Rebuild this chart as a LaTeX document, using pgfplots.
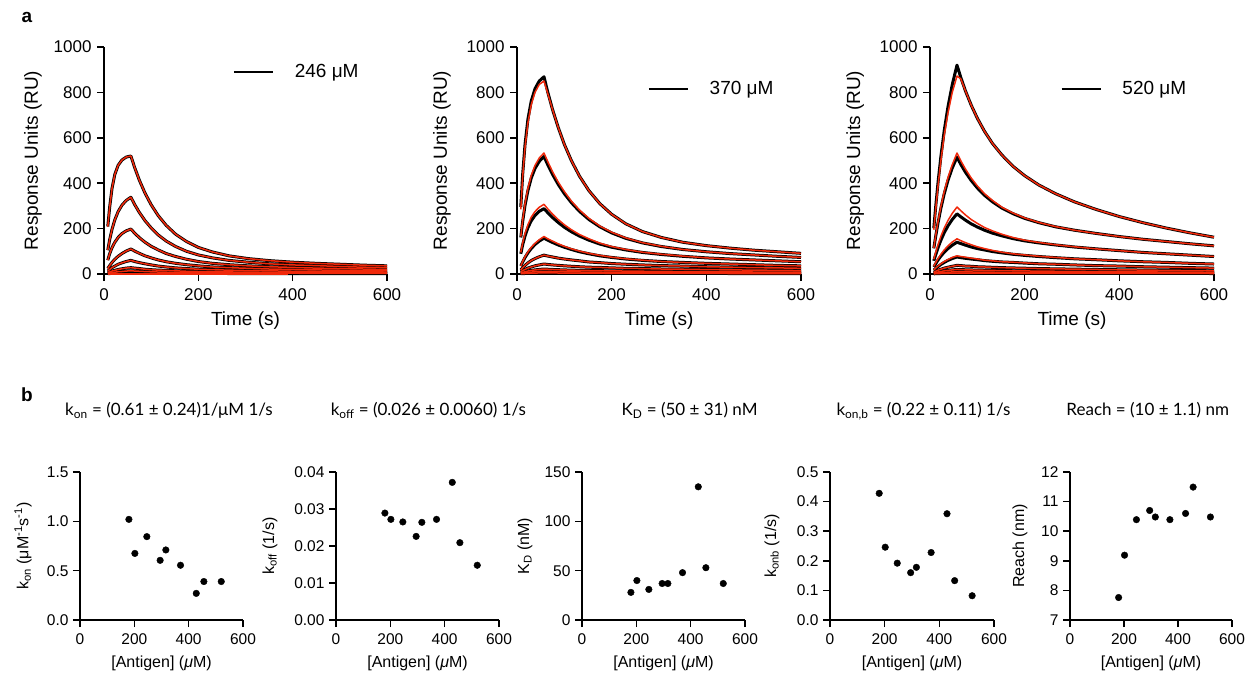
\documentclass[border=0pt]{standalone}
\usepackage{fontspec}
\setmainfont{Liberation Sans}
\newfontfamily\titlefont{Lato}
\usepackage{pgfplots}
\pgfplotsset{compat=1.18}
\usepackage{pgfplotstable}
\definecolor{fitred}{RGB}{240,40,10}

% panel a1 (246 uM): black data = red fit (drawn twice)
\pgfplotstableread{
t    c1   c2   c3   c4   c5   c6   c7   c8
8    209  105  61   24   13   6    3    1.3
12   294  151  89   37   20   9    5    2
17   377  197  116  51   28   13   6    2.8
23   439  239  140  65   35   16   8    3.5
30   479  275  161  78   43   20   10   4.3
38   502  303  178  90   49   23   11   4.9
47   515  324  190  101  55   26   13   5.5
57   520  338  198  110  60   28   14   6
65   469  306  180  101  55   26   13   5.6
75   413  271  160  91   50   24   12   5.2
87   356  235  140  80   45   21   10.7 4.7
100  305  203  122  71   40   19   9.7  4.3
115  257  172  106  62   35   17   8.7  3.9
132  214  145  90   54   31   16   7.8  3.5
152  175  121  77   47   27   14   6.9  3.2
175  143  100  65   41   24   12   6.2  2.9
200  117  84   55   36   21   11   5.6  2.6
230  97   71   47   31   19   10   5    2.4
265  80   60   41   28   17   9    4.5  2.2
305  68   52   36   25   15   8.2  4.1  2
350  59   45   32   22   14   7.3  3.7  1.8
400  52   40   29   20   12   6.7  3.4  1.7
450  47   37   26   18   11   6.2  3.1  1.5
500  43   33   24   16.5 10   5.7  2.8  1.4
550  39   30   22   15   9.5  5.2  2.6  1.3
600  36   28   20   14   8.7  4.8  2.4  1.2
}\tabA

% panel a2 (370 uM): black data
\pgfplotstableread{
t    c1   c2   c3   c4   c5   c6   c7   c8   c9
8    295  161  89   35   18   10   5    2.6  1.1
12   440  232  129  53   28   15   7    4    1.7
17   572  303  168  73   38   20   10   5.5  2.3
23   681  367  204  93   49   26   13   7    2.9
30   761  422  234  112  59   31   16   8.5  3.5
38   816  465  258  130  68   36   18   9.9  4.1
47   850  496  276  145  76   40   20   11   4.6
57   869  518  288  158  83   44   22   12   5
65   801  481  270  149  79   42   21   11.5 4.8
75   725  439  249  139  75   40   20   11   4.6
87   646  395  227  128  70   38   19   10.4 4.4
100  571  354  206  118  66   36   18   9.9  4.2
115  499  314  186  108  62   34   17   9.4  4
132  431  276  167  98   58   32   16   8.9  3.8
152  367  240  149  89   53   30   15.5 8.3  3.6
175  310  208  132  80   50   29   14.6 7.8  3.4
200  263  181  118  73   46   27   13.8 7.4  3.2
230  221  157  106  66   43   25   13   7    3
265  187  137  95   60   40   24   12.2 6.5  2.8
305  161  121  86   55   37   22   11.4 6.1  2.7
350  140  108  78   51   35   21   10.7 5.7  2.5
400  125  98   71   47   32   19.4 10   5.4  2.4
450  114  90   66   44   30   18.2 9.4  5    2.2
500  105  84   62   41   28   17.1 8.8  4.7  2.1
550  98   78   58   38   27   16.1 8.3  4.4  2
600  91   73   54   36   25   15.1 7.8  4.2  1.9
}\tabB
% panel a2: red fits of the four largest curves
\pgfplotstableread{
t    r1   r2   r3   r4
8    285  165  95   36
12   430  238  137  55
17   560  311  179  76
23   665  377  217  97
30   745  434  250  117
38   800  478  275  135
47   835  511  294  151
57   850  533  307  165
65   795  495  287  155
75   725  451  264  145
87   646  405  240  133
100  571  363  217  122
115  499  321  195  111
132  431  282  174  101
152  367  245  155  91
175  310  211  136  82
200  263  184  121  74
230  221  159  108  67
265  187  138  96   61
305  161  122  87   55
350  140  108  79   51
400  125  98   71   47
450  114  90   66   44
500  105  84   62   41
550  98   78   58   38
600  91   73   54   36
}\tabBr

% panel a3 (520 uM): black data
\pgfplotstableread{
t    c1   c2   c3   c4   c5   c6   c7   c8   c9
8    202  113  58   31   17   8    4.4  2.2  0.9
12   296  166  85   45   24   12   6.4  3.2  1.3
17   404  226  116  62   33   17   8.8  4.4  1.8
23   518  290  149  79   42   21   11   5.6  2.3
30   631  353  182  96   51   26   14   6.9  2.7
38   737  413  212  112  60   30   16   8    3.2
47   834  467  240  127  68   34   18   9.1  3.6
57   920  515  265  140  75   38   20   10   4
65   866  483  252  134  72   37   19.3 9.6  3.9
75   806  448  237  127  69   35   18.6 9.3  3.8
87   744  412  221  119  66   34   17.8 8.9  3.7
100  686  379  207  112  63   32   17.2 8.6  3.6
115  629  347  193  106  59   31   16.4 8.2  3.5
132  575  318  180  99   56   29.5 15.7 7.8  3.4
152  524  290  168  93   53   28   14.9 7.5  3.3
175  475  266  156  87   51   26.7 14.3 7.1  3.2
200  433  245  146  82   48   25.5 13.5 6.8  3.1
230  392  226  137  77   45   24   12.8 6.4  3
265  354  208  128  72   43   22.7 12.1 6    2.9
305  318  193  119  67   40   21.4 11.4 5.7  2.8
350  285  179  111  63   37   20   10.7 5.3  2.7
400  253  165  103  58   35   18.6 9.9  5    2.6
450  226  153  95   54   32   17.3 9.2  4.6  2.5
500  202  143  89   51   30   16.1 8.6  4.3  2.4
550  181  133  83   47   28   15   8    4    2.3
600  162  124  77   44   26   14   7.5  3.7  2.2
}\tabC
% panel a3: red fits of the five largest curves
\pgfplotstableread{
t    r1   r2   r3   r4   r5
8    195  115  65   34   18
12   285  170  95   50   26
17   390  232  130  68   35
23   500  298  166  87   45
30   610  363  202  106  55
38   710  425  236  124  64
47   800  481  267  141  73
57   872  533  295  155  80
65   860  499  279  147  77
75   806  462  260  138  74
87   744  423  240  129  70
100  686  388  223  120  66
115  629  354  205  112  61
132  575  324  190  104  58
152  524  294  175  96   54
175  475  269  161  89   52
200  433  247  149  84   49
230  392  227  139  78   45
265  354  209  129  73   43
305  318  193  120  67   40
350  285  179  111  63   37
400  253  165  103  58   35
450  226  153  95   54   32
500  202  143  89   51   30
550  181  133  83   47   28
600  162  124  77   44   26
}\tabCr

% panel b: fitted parameters vs antigen concentration
\pgfplotstableread{
c    kon   koff    KD   konb   reach
180  1.02  0.0289  28   0.428  7.76
202  0.675 0.0272  40   0.246  9.19
246  0.845 0.0265  31   0.192  10.39
295  0.605 0.0226  37   0.160  10.70
316  0.71  0.0264  37   0.178  10.48
370  0.555 0.0272  48   0.228  10.39
428  0.27  0.0372  135  0.359  10.60
456  0.39  0.0209  53   0.133  11.49
520  0.39  0.0148  37   0.082  10.48
}\tabD

\pgfplotsset{
  common/.style={
    scale only axis, axis lines*=left,
    axis line style={line width=1.6pt},
    tick align=outside, major tick length=7pt,
    tick style={black, line width=1.6pt},
    scaled ticks=false,
    xmin=0, xmax=600, xtick={0,200,400,600}, xticklabels={0,200,400,600},
  },
  spr/.style={
    common, width=284pt, height=227pt, ymin=0, ymax=1000,
    ytick={0,200,400,600,800,1000}, yticklabels={0,200,400,600,800,1000},
    tick label style={font=\fontsize{17}{17}\selectfont},
    xticklabel style={yshift=-4pt}, yticklabel style={xshift=-2pt},
    label style={font=\fontsize{19}{19}\selectfont},
    xlabel={Time (s)}, ylabel={Response Units (RU)},
    xlabel style={at={(axis description cs:0.5,-0.207)}, anchor=center},
    clip=false,
    legend style={draw=none, fill=none, anchor=west, inner sep=0pt, outer sep=0pt,
      font=\fontsize{19}{19}\selectfont, nodes={inner sep=0pt}},
    legend image code/.code={\draw[##1] (0pt,0pt) -- (39pt,0pt); \path (60pt,0pt);},
  },
  blk/.style={black, line width=3pt, line join=round, forget plot},
  rd/.style={fitred, line width=1.5pt, line join=round, forget plot},
  scat/.style={
    common, width=163pt, height=148pt,
    tick label style={font=\fontsize{15.5}{15.5}\selectfont},
    xticklabel style={yshift=-3pt}, yticklabel style={xshift=-1pt},
    label style={font=\fontsize{16}{16}\selectfont},
    xlabel={[Antigen] (\textit{μ}M)},
    xlabel style={at={(axis description cs:0.5,-0.294)}, anchor=center},
    title style={font=\titlefont\fontsize{17}{17}\selectfont, anchor=base},
    clip=false,
  },
  dots/.style={only marks, mark=*, mark size=3.3pt, mark options={black, fill=black}},
}

\begin{document}
\begin{tikzpicture}
\useasboundingbox (0pt,0pt) rectangle (1246pt,-674pt);
\node[font=\bfseries\fontsize{19}{19}\selectfont] at (27pt,-17pt) {a};
\node[font=\bfseries\fontsize{19}{19}\selectfont] at (27pt,-395pt) {b};

% ---------- a1 ----------
\begin{axis}[spr, at={(104pt,-274pt)}, anchor=south west, width=283pt,
  ylabel style={at={(axis description cs:-0.251,0.5)}, anchor=center},
  legend style={at={(0.456,0.89)}}]
\addplot[blk] table[x=t,y=c1]{\tabA};
\addplot[blk] table[x=t,y=c2]{\tabA};
\addplot[blk] table[x=t,y=c3]{\tabA};
\addplot[blk] table[x=t,y=c4]{\tabA};
\addplot[blk] table[x=t,y=c5]{\tabA};
\addplot[blk] table[x=t,y=c6]{\tabA};
\addplot[blk] table[x=t,y=c7]{\tabA};
\addplot[blk] table[x=t,y=c8]{\tabA};
\addplot[rd] table[x=t,y=c1]{\tabA};
\addplot[rd] table[x=t,y=c2]{\tabA};
\addplot[rd] table[x=t,y=c3]{\tabA};
\addplot[rd] table[x=t,y=c4]{\tabA};
\addplot[rd] table[x=t,y=c5]{\tabA};
\addplot[rd] table[x=t,y=c6]{\tabA};
\addplot[rd] table[x=t,y=c7]{\tabA};
\addplot[rd] coordinates {(8,1) (390,1)};
\addlegendimage{black, line width=1.8pt}
\addlegendentry{246 μM}
\end{axis}

% ---------- a2 ----------
\begin{axis}[spr, at={(517pt,-274pt)}, anchor=south west, width=284pt,
  ylabel style={at={(axis description cs:-0.264,0.5)}, anchor=center},
  legend style={at={(0.461,0.815)}}]
\addplot[blk] table[x=t,y=c1]{\tabB};
\addplot[blk] table[x=t,y=c2]{\tabB};
\addplot[blk] table[x=t,y=c3]{\tabB};
\addplot[blk] table[x=t,y=c4]{\tabB};
\addplot[blk] table[x=t,y=c5]{\tabB};
\addplot[blk] table[x=t,y=c6]{\tabB};
\addplot[blk] table[x=t,y=c7]{\tabB};
\addplot[blk] table[x=t,y=c8]{\tabB};
\addplot[blk] table[x=t,y=c9]{\tabB};
\addplot[rd] table[x=t,y=r1]{\tabBr};
\addplot[rd] table[x=t,y=r2]{\tabBr};
\addplot[rd] table[x=t,y=r3]{\tabBr};
\addplot[rd] table[x=t,y=r4]{\tabBr};
\addplot[rd] table[x=t,y=c5]{\tabB};
\addplot[rd] table[x=t,y=c6]{\tabB};
\addplot[rd] table[x=t,y=c7]{\tabB};
\addplot[rd] table[x=t,y=c8]{\tabB};
\addplot[rd] table[x=t,y=c9]{\tabB};
\addlegendimage{black, line width=1.8pt}
\addlegendentry{370 μM}
\end{axis}

% ---------- a3 ----------
\begin{axis}[spr, at={(930pt,-274pt)}, anchor=south west, width=284pt,
  ylabel style={at={(axis description cs:-0.263,0.5)}, anchor=center},
  legend style={at={(0.460,0.815)}}]
\addplot[blk] table[x=t,y=c1]{\tabC};
\addplot[blk] table[x=t,y=c2]{\tabC};
\addplot[blk] table[x=t,y=c3]{\tabC};
\addplot[blk] table[x=t,y=c4]{\tabC};
\addplot[blk] table[x=t,y=c5]{\tabC};
\addplot[blk] table[x=t,y=c6]{\tabC};
\addplot[blk] table[x=t,y=c7]{\tabC};
\addplot[blk] table[x=t,y=c8]{\tabC};
\addplot[blk] table[x=t,y=c9]{\tabC};
\addplot[rd] table[x=t,y=r1]{\tabCr};
\addplot[rd] table[x=t,y=r2]{\tabCr};
\addplot[rd] table[x=t,y=r3]{\tabCr};
\addplot[rd] table[x=t,y=r4]{\tabCr};
\addplot[rd] table[x=t,y=r5]{\tabCr};
\addplot[rd] table[x=t,y=c6]{\tabC};
\addplot[rd] table[x=t,y=c7]{\tabC};
\addplot[rd] table[x=t,y=c8]{\tabC};
\addplot[rd] table[x=t,y=c9]{\tabC};
\addlegendimage{black, line width=1.8pt}
\addlegendentry{520 μM}
\end{axis}

% ---------- b1 ----------
\begin{axis}[scat, at={(80pt,-620pt)}, anchor=south west,
  ymin=0, ymax=1.5, ytick={0,0.5,1,1.5}, yticklabels={0.0,0.5,1.0,1.5},
  ylabel={k\textsubscript{on} (μM\textsuperscript{-1}s\textsuperscript{-1})},
  ylabel style={at={(axis description cs:-0.35,0.5)}, anchor=center},
  title={k\textsubscript{on} = (0.61 ± 0.24)1/μM 1/s},
  title style={at={(axis description cs:0.546,1.338)}}]
\addplot[dots] table[x=c,y=kon]{\tabD};
\end{axis}

% ---------- b2 ----------
\begin{axis}[scat, at={(336pt,-620pt)}, anchor=south west,
  ymin=0, ymax=0.04, ytick={0,0.01,0.02,0.03,0.04}, yticklabels={0.00,0.01,0.02,0.03,0.04},
  ylabel={k\textsubscript{off} (1/s)},
  ylabel style={at={(axis description cs:-0.405,0.5)}, anchor=center},
  title={k\textsubscript{off} = (0.026 ± 0.0060) 1/s},
  title style={at={(axis description cs:0.567,1.338)}}]
\addplot[dots] table[x=c,y=koff]{\tabD};
\end{axis}

% ---------- b3 ----------
\begin{axis}[scat, at={(582pt,-620pt)}, anchor=south west,
  ymin=0, ymax=150, ytick={0,50,100,150}, yticklabels={0,50,100,150},
  ylabel={K\textsubscript{D} (nM)},
  ylabel style={at={(axis description cs:-0.35,0.5)}, anchor=center},
  title={K\textsubscript{D} = (50 ± 31) nM},
  title style={at={(axis description cs:0.66,1.338)}}]
\addplot[dots] table[x=c,y=KD]{\tabD};
\end{axis}

% ---------- b4 ----------
\begin{axis}[scat, at={(830pt,-620pt)}, anchor=south west, width=164pt,
  ymin=0, ymax=0.5, ytick={0,0.1,0.2,0.3,0.4,0.5}, yticklabels={0.0,0.1,0.2,0.3,0.4,0.5},
  ylabel={k\textsubscript{onb} (1/s)},
  ylabel style={at={(axis description cs:-0.354,0.5)}, anchor=center},
  title={k\textsubscript{on,b} = (0.22 ± 0.11) 1/s},
  title style={at={(axis description cs:0.57,1.338)}}]
\addplot[dots] table[x=c,y=konb]{\tabD};
\end{axis}

% ---------- b5 ----------
\begin{axis}[scat, at={(1070pt,-620pt)}, anchor=south west, width=162pt,
  ymin=7, ymax=12, ytick={7,8,9,10,11,12}, yticklabels={7,8,9,10,11,12},
  ylabel={Reach (nm)},
  ylabel style={at={(axis description cs:-0.309,0.5)}, anchor=center},
  title={Reach = (10 ± 1.1) nm},
  title style={at={(axis description cs:0.48,1.338)}}]
\addplot[dots] table[x=c,y=reach]{\tabD};
\end{axis}
\end{tikzpicture}
\end{document}
